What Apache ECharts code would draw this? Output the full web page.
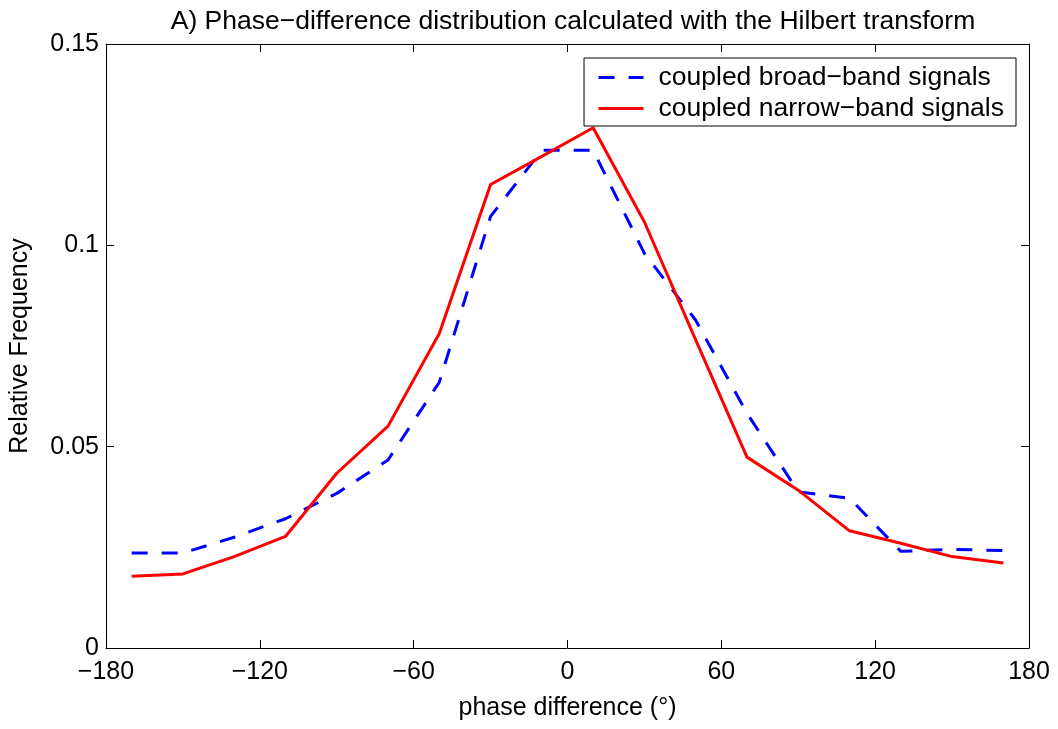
<!DOCTYPE html>
<html>
<head>
<meta charset="utf-8">
<script src="https://cdn.jsdelivr.net/npm/echarts@6/dist/echarts.min.js"></script>
<style>
  html, body { margin: 0; padding: 0; background: #fff; }
  #chart { width: 1058px; height: 729px; }
</style>
</head>
<body>
<div id="chart"></div>
<script>
// bin centres (degrees)
const phase = [-170, -150, -130, -110, -90, -70, -50, -30, -10, 10, 30, 50, 70, 90, 110, 130, 150, 170]
const broadBand = [0.0236, 0.0236, 0.0275, 0.0321, 0.0384, 0.0467, 0.0660, 0.1072, 0.1236, 0.1236, 0.0980, 0.0814, 0.0583, 0.0388, 0.0372, 0.0240, 0.0245, 0.0242]
const narrowBand = [0.0178, 0.0184, 0.0227, 0.0277, 0.0434, 0.0551, 0.0781, 0.1151, 0.1221, 0.1292, 0.1058, 0.0765, 0.0474, 0.0392, 0.0291, 0.0260, 0.0227, 0.0211]
const seriesNames = ['coupled broad\u2212band signals', 'coupled narrow\u2212band signals']

const font = 'Liberation Sans, Arial, sans-serif'
const minus = (s) => String(s).replace('-', '\u2212')

const pairs = (ys) => phase.map((x, i) => [x, ys[i]])

const boxAxis = {
  axisLine: { onZero: false, show: true, lineStyle: { color: '#000', width: 1 } },
  axisTick: { show: true, inside: true, length: 8, lineStyle: { color: '#000' } },
  splitLine: { show: false }
}

const option = {
  animation: false,
  title: {
    text: 'A) Phase\u2212difference distribution calculated with the Hilbert transform',
    left: 568,
    textAlign: 'center',
    top: 3,
    textStyle: { fontFamily: font, fontSize: 26.5, fontWeight: 'normal', color: '#000' }
  },
  grid: { left: 104, right: 29, top: 44, bottom: 81, containLabel: false },
  legend: {
    orient: 'vertical',
    right: 42,
    top: 58,
    padding: [6, 12, 4, 13],
    itemGap: 4,
    itemWidth: 45,
    itemHeight: 14,
    backgroundColor: '#fff',
    borderColor: '#000',
    borderWidth: 1,
    borderRadius: 0,
    itemStyle: { opacity: 0 },
    lineStyle: { width: 3 },
    textStyle: { fontFamily: font, fontSize: 26.5, lineHeight: 26, color: '#000', padding: [0, 0, 0, 10] },
    data: seriesNames
  },
  xAxis: [
    {
      type: 'value', min: -180, max: 180, interval: 60,
      name: 'phase difference (\u00b0)', nameLocation: 'middle', nameGap: 48,
      nameTextStyle: { fontFamily: font, fontSize: 25, color: '#000' },
      ...boxAxis,
      axisLabel: { fontFamily: font, fontSize: 25, color: '#000', margin: 12, formatter: minus }
    },
    {
      type: 'value', min: -180, max: 180, interval: 60, position: 'top',
      ...boxAxis,
      axisLabel: { show: false }
    }
  ],
  yAxis: [
    {
      type: 'value', min: 0, max: 0.15, interval: 0.05,
      name: 'Relative Frequency', nameLocation: 'middle', nameGap: 73, nameRotate: 90,
      nameTextStyle: { fontFamily: font, fontSize: 25, color: '#000' },
      ...boxAxis,
      axisLabel: {
        fontFamily: font, fontSize: 25, color: '#000', margin: 7,
        formatter: (v) => String(parseFloat(v.toFixed(2)))
      }
    },
    {
      type: 'value', min: 0, max: 0.15, interval: 0.05, position: 'right',
      ...boxAxis,
      axisLabel: { show: false }
    }
  ],
  series: [
    {
      name: seriesNames[0],
      type: 'line',
      symbol: 'none',
      color: '#0000ff',
      lineStyle: { color: '#0000ff', width: 3, type: [16, 14] },
      data: pairs(broadBand)
    },
    {
      name: seriesNames[1],
      type: 'line',
      symbol: 'none',
      color: '#ff0000',
      lineStyle: { color: '#ff0000', width: 3 },
      data: pairs(narrowBand)
    }
  ]
}

const chart = echarts.init(document.getElementById('chart'))
chart.setOption(option)
</script>
</body>
</html>
